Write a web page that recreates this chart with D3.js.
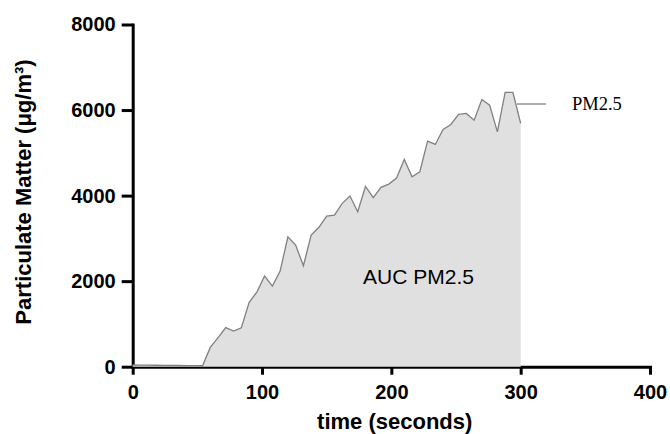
<!DOCTYPE html>
<html>
<head>
<meta charset="utf-8">
<script src="https://cdn.jsdelivr.net/npm/d3@7"></script>
<style>
    body { margin: 0; background: #fff; }
    svg { display: block; }
</style>
</head>
<body>
<div id="chart"></div>
<script>
// **Dữ liệu**
const timeSeconds = [0, 6, 12, 18, 24, 30, 36, 42, 48, 54,
    60, 66, 72, 78, 84, 90, 96, 102, 108, 114,
    120, 126, 132, 138, 144, 150, 156, 162, 168, 174,
    180, 186, 192, 198, 204, 210, 216, 222, 228, 234,
    240, 246, 252, 258, 264, 270, 276, 282, 288, 294, 300];
const pm25Values = [40, 38, 36, 34, 32, 30, 28, 26, 24, 22,
    450, 680, 915, 835, 910, 1500, 1745, 2120, 1886, 2236,
    3037, 2843, 2360, 3077, 3260, 3521, 3544, 3818, 3990, 3621,
    4214, 3953, 4192, 4269, 4410, 4846, 4440, 4556, 5273, 5196,
    5547, 5663, 5897, 5921, 5764, 6248, 6115, 5491, 6411, 6411, 5687];
const xTicks = [0, 100, 200, 300, 400];
const yTicks = [0, 2000, 4000, 6000, 8000];
const seriesName = "PM2.5";
const aucLabel = "AUC PM2.5";

document.addEventListener("DOMContentLoaded", function () {
    const data = timeSeconds.map((t, i) => ({ t: t, v: pm25Values[i] }));

    const width = 670;
    const height = 434;
    const margin = { top: 24.5, right: 20, bottom: 67.3, left: 132.7 };
    const innerW = width - margin.left - margin.right;
    const innerH = height - margin.top - margin.bottom;
    const boldFont = "'Liberation Sans', Arial, sans-serif";

    const svg = d3.select("#chart")
        .append("svg")
        .attr("width", width)
        .attr("height", height)
        .append("g")
        .attr("transform", `translate(${margin.left},${margin.top})`);

    // **Thang đo**
    const x = d3.scaleLinear().domain([0, 400]).range([0, innerW]);
    const y = d3.scaleLinear().domain([0, 8000]).range([innerH, 0]);

    // **Trục Y**
    const yAxis = svg.append("g")
        .call(d3.axisLeft(y).tickValues(yTicks).tickFormat(d3.format("d"))
            .tickSize(11).tickSizeOuter(0).tickPadding(6));
    // **Trục X**
    const xAxis = svg.append("g")
        .attr("transform", `translate(0,${innerH})`)
        .call(d3.axisBottom(x).tickValues(xTicks).tickFormat(d3.format("d"))
            .tickSize(8).tickSizeOuter(0).tickPadding(10));

    [xAxis, yAxis].forEach(ax => {
        ax.select(".domain").attr("stroke", "#000").attr("stroke-width", 3).attr("stroke-linecap", "square");
        ax.selectAll(".tick line").attr("stroke", "#000").attr("stroke-width", 3);
        ax.selectAll(".tick text")
            .attr("fill", "#000")
            .style("font-family", boldFont)
            .style("font-size", "20px")
            .style("font-weight", "bold");
    });

    // **Vùng AUC và đường**
    const area = d3.area()
        .x(d => x(d.t))
        .y0(y(0))
        .y1(d => y(d.v));
    const line = d3.line()
        .x(d => x(d.t))
        .y(d => y(d.v));

    svg.append("path")
        .datum(data)
        .attr("d", area)
        .attr("fill", "#e0e0e0");

    svg.append("path")
        .datum(data)
        .attr("d", line)
        .attr("fill", "none")
        .attr("stroke", "#808080")
        .attr("stroke-width", 1.3)
        .attr("stroke-linejoin", "miter");

    svg.append("text")
        .attr("x", x(221))
        .attr("y", y(1930))
        .attr("text-anchor", "middle")
        .style("font-family", "'Liberation Sans', Arial, sans-serif")
        .style("font-size", "21px")
        .attr("fill", "#000")
        .text(aucLabel);

    // **Chú thích**
    svg.append("line")
        .attr("x1", 517 - margin.left)
        .attr("x2", 546 - margin.left)
        .attr("y1", 104 - margin.top)
        .attr("y2", 104 - margin.top)
        .attr("stroke", "#808080")
        .attr("stroke-width", 1.3);
    svg.append("text")
        .attr("x", 572 - margin.left)
        .attr("y", 110 - margin.top)
        .style("font-family", "'Liberation Serif', 'Times New Roman', serif")
        .style("font-size", "18.5px")
        .attr("fill", "#000")
        .text(seriesName);

    // **Nhãn trục**
    svg.append("text")
        .attr("x", 394.7 - margin.left)
        .attr("y", 429.3 - margin.top)
        .attr("text-anchor", "middle")
        .style("font-family", boldFont)
        .style("font-size", "22px")
        .style("font-weight", "bold")
        .attr("fill", "#000")
        .text("time (seconds)");

    svg.append("text")
        .attr("transform", `translate(${31 - margin.left},${192 - margin.top}) rotate(-90)`)
        .attr("text-anchor", "middle")
        .style("font-family", boldFont)
        .style("font-size", "22px")
        .style("font-weight", "bold")
        .attr("fill", "#000")
        .text("Particulate Matter (μg/m³)");
});
</script>
</body>
</html>
